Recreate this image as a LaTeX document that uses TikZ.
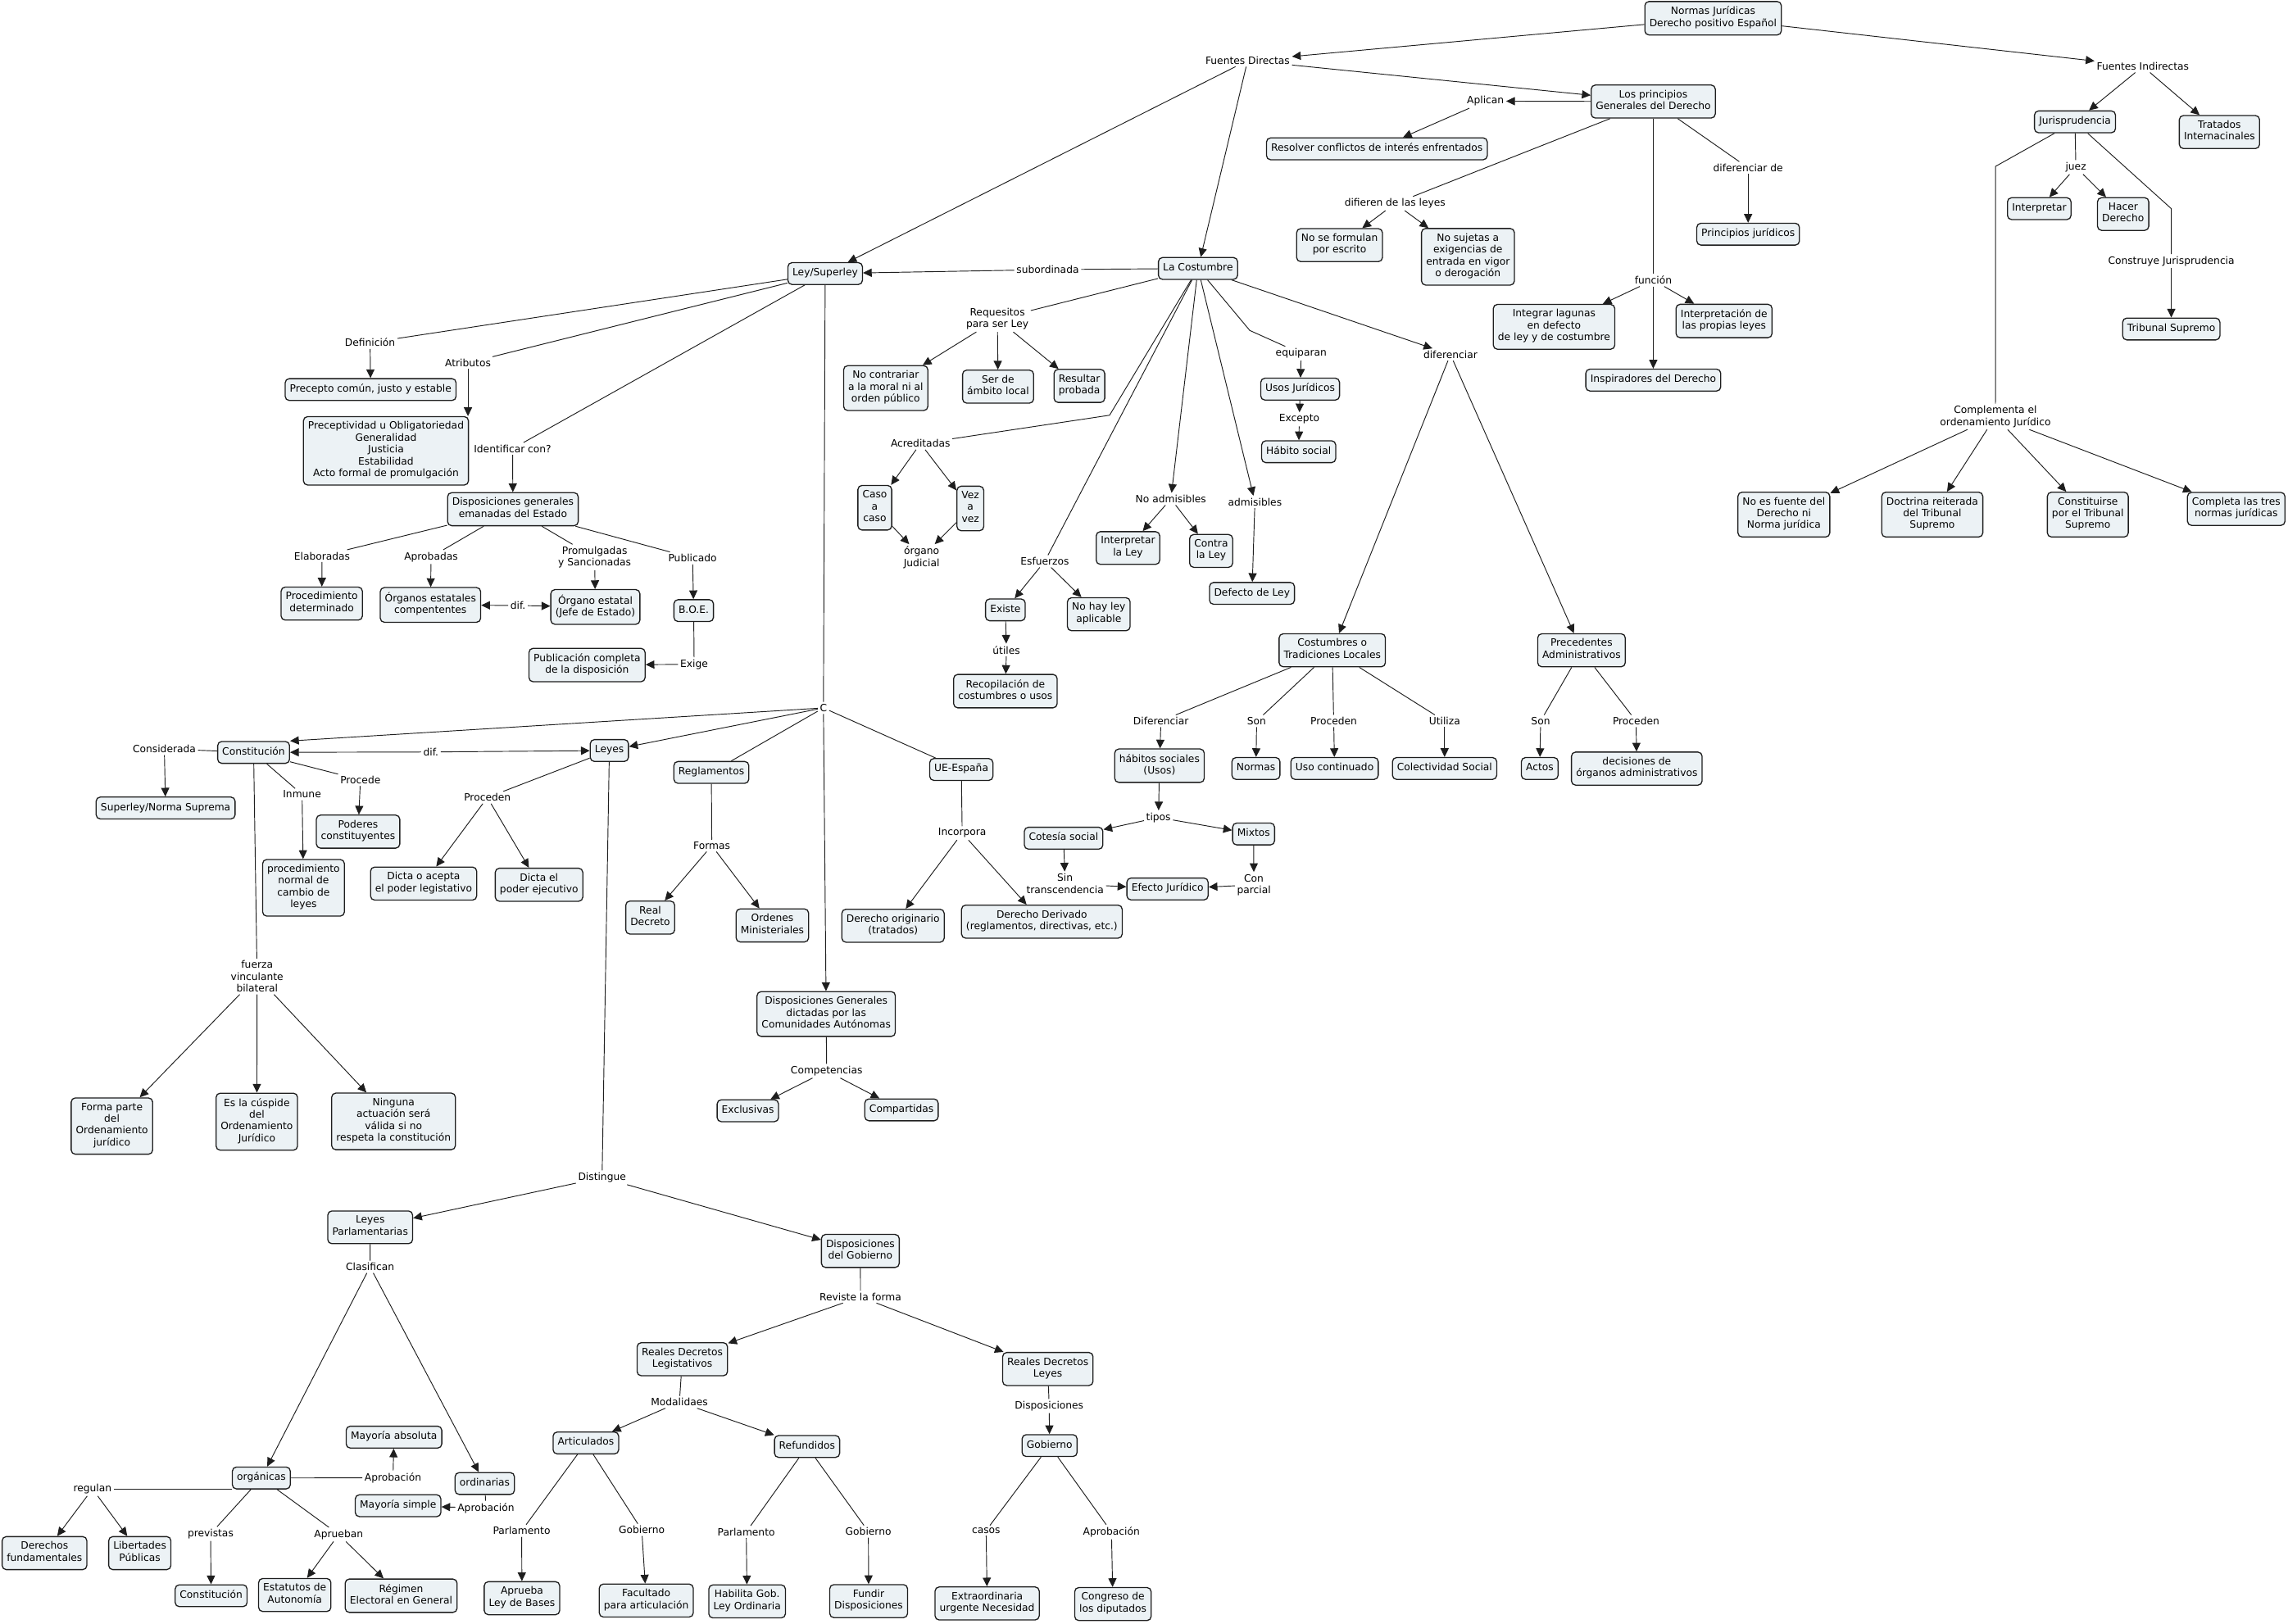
\documentclass[tikz,border=0pt]{standalone}
\usepackage{fontspec}
\setmainfont{DejaVu Sans}
\usetikzlibrary{arrows.meta}
\definecolor{cmfill}{RGB}{236,242,245}
\definecolor{cmline}{RGB}{30,30,30}
\tikzset{
  concept/.style={rectangle, draw=cmline, fill=cmfill, rounded corners=4pt,
    line width=1.05pt, align=center, inner xsep=4.5pt, inner ysep=4.9pt,
    font=\fontsize{9.8}{11.5}\selectfont,
    execute at begin node=\strut, execute at end node=\strut},
  linkph/.style={align=center, inner sep=2pt, font=\fontsize{9.8}{11.5}\selectfont},
  arr/.style={-{Triangle[length=8.5pt,width=8pt]}, line width=0.75pt, color=cmline},
  ln/.style={line width=0.75pt, color=cmline}
}
\begin{document}
\begin{tikzpicture}[x=0.05cm, y=-0.05cm]
  \fill[white] (0,0) rectangle (1568,1113);
  \useasboundingbox (0,0) rectangle (1568,1113);

  % Raiz
  \node[concept] (normas) at (1174,12.5) {Normas Jurídicas\\Derecho positivo Español};
  \node[linkph] (fdir) at (855,41.5) {Fuentes Directas};
  \node[linkph] (find) at (1468.5,45.5) {Fuentes Indirectas};
  \draw[arr] (normas) -- (fdir);
  \draw[arr] (normas) -- (find);

  % Principios generales
  \node[concept] (principios) at (1133,69.6) {Los principios\\Generales del Derecho};
  \node[linkph] (aplican) at (1018,69.3) {Aplican};
  \node[concept] (resolver) at (943.6,102) {Resolver conflictos de interés enfrentados};
  \node[linkph] (difieren) at (956,139.5) {difieren de las leyes};
  \node[concept] (noformulan) at (918,168) {No se formulan\\por escrito};
  \node[concept] (nosujetas) at (1006,176) {No sujetas a\\exigencias de\\entrada en vigor\\o derogación};
  \node[linkph] (difde) at (1198,115) {diferenciar de};
  \node[concept] (pjuridicos) at (1198,160.5) {Principios jurídicos};
  \node[linkph] (funcion) at (1133,192) {función};
  \node[concept] (integrar) at (1065,224) {Integrar lagunas\\en defecto\\de ley y de costumbre};
  \node[concept] (interpretacion) at (1181.5,220) {Interpretación de\\las propias leyes};
  \node[concept] (inspiradores) at (1133,260.5) {Inspiradores del Derecho};
  \draw[arr] (fdir) -- (principios);
  \draw[arr] (principios) -- (aplican);
  \draw[arr] (aplican) -- (resolver);
  \draw[ln] (principios) -- (difieren);
  \draw[arr] (difieren) -- (noformulan);
  \draw[arr] (difieren) -- (nosujetas);
  \draw[ln] (principios) -- (difde);
  \draw[arr] (difde) -- (pjuridicos);
  \draw[ln] (principios) -- (funcion);
  \draw[arr] (funcion) -- (integrar);
  \draw[arr] (funcion) -- (interpretacion);
  \draw[arr] (funcion) -- (inspiradores);

  % Fuentes indirectas
  \node[concept] (juris) at (1422,83.5) {Jurisprudencia};
  \node[concept] (tratados) at (1521,90.5) {Tratados\\Internacinales};
  \node[linkph] (juez) at (1422.6,114.6) {juez};
  \node[concept] (interpretar) at (1397.5,143) {Interpretar};
  \node[concept] (hacer) at (1455,146.7) {Hacer\\Derecho};
  \node[linkph] (construye) at (1488,179) {Construye Jurisprudencia};
  \node[concept] (tsupremo) at (1488,225.5) {Tribunal Supremo};
  \node[linkph] (complementa) at (1367.5,285.5) {Complementa el\\ordenamiento Jurídico};
  \node[concept] (noesfuente) at (1222.5,352.7) {No es fuente del\\Derecho ni\\Norma jurídica};
  \node[concept] (doctrina) at (1324.2,352.7) {Doctrina reiterada\\del Tribunal\\Supremo};
  \node[concept] (constituirse) at (1430.8,352.7) {Constituirse\\por el Tribunal\\Supremo};
  \node[concept] (completa) at (1532.5,348.8) {Completa las tres\\normas jurídicas};
  \coordinate (cons1) at (1488,143);
  \coordinate (comp1) at (1367.6,114);
  \draw[arr] (find) -- (juris);
  \draw[arr] (find) -- (tratados);
  \draw[ln] (juris) -- (juez);
  \draw[arr] (juez) -- (interpretar);
  \draw[arr] (juez) -- (hacer);
  \draw[ln] (juris) -- (cons1) -- (construye);
  \draw[arr] (construye) -- (tsupremo);
  \draw[ln] (juris) -- (comp1) -- (complementa);
  \draw[arr] (complementa) -- (noesfuente);
  \draw[arr] (complementa) -- (doctrina);
  \draw[arr] (complementa) -- (constituirse);
  \draw[arr] (complementa) -- (completa);

  % La Costumbre
  \node[concept] (ley) at (565.5,187.5) {Ley/Superley};
  \node[concept] (costumbre) at (821,184) {La Costumbre};
  \node[linkph] (subordinada) at (718,184.8) {subordinada};
  \node[linkph] (requesitos) at (683.5,218.6) {Requesitos\\para ser Ley};
  \node[concept] (nocontrariar) at (607,266) {No contrariar\\a la moral ni al\\orden público};
  \node[concept] (serambito) at (684,265) {Ser de\\ámbito local};
  \node[concept] (resultar) at (739.7,264.5) {Resultar\\probada};
  \node[linkph] (acreditadas) at (630.8,304) {Acreditadas};
  \node[concept] (caso) at (599.5,348) {Caso\\a\\caso};
  \node[concept] (vez) at (665,348.5) {Vez\\a\\vez};
  \node[linkph] (organo) at (631.6,382) {órgano\\Judicial};
  \node[linkph] (esfuerzos) at (716,384.7) {Esfuerzos};
  \node[concept] (existe) at (689,418) {Existe};
  \node[concept] (nohay) at (753,421) {No hay ley\\aplicable};
  \node[linkph] (utiles) at (689.7,445.5) {útiles};
  \node[concept] (recopilacion) at (689,473.7) {Recopilación de\\costumbres o usos};
  \node[linkph] (noadm) at (802.4,342) {No admisibles};
  \node[concept] (interpley) at (773,375.6) {Interpretar\\la Ley};
  \node[concept] (contraley) at (830,377.6) {Contra\\la Ley};
  \node[linkph] (admisibles) at (860,344) {admisibles};
  \node[concept] (defecto) at (858,406.7) {Defecto de Ley};
  \node[linkph] (equiparan) at (891.7,242.3) {equiparan};
  \node[concept] (usos) at (891,266.7) {Usos Jurídicos};
  \node[linkph] (excepto) at (890.4,287.4) {Excepto};
  \node[concept] (habito) at (890,309.6) {Hábito social};
  \node[linkph] (diferenciar) at (994,243) {diferenciar};
  \coordinate (acr1) at (760.4,284.6);
  \coordinate (equ1) at (856.5,226.5);
  \draw[arr] (fdir) -- (ley);
  \draw[arr] (fdir) -- (costumbre);
  \draw[ln] (costumbre) -- (subordinada);
  \draw[arr] (subordinada) -- (ley);
  \draw[ln] (costumbre) -- (requesitos);
  \draw[arr] (requesitos) -- (nocontrariar);
  \draw[arr] (requesitos) -- (serambito);
  \draw[arr] (requesitos) -- (resultar);
  \draw[ln] (costumbre) -- (acr1) -- (acreditadas);
  \draw[arr] (acreditadas) -- (caso);
  \draw[arr] (acreditadas) -- (vez);
  \draw[arr] (caso) -- (organo);
  \draw[arr] (vez) -- (organo);
  \draw[ln] (costumbre) -- (esfuerzos);
  \draw[arr] (esfuerzos) -- (existe);
  \draw[arr] (esfuerzos) -- (nohay);
  \draw[arr] (existe) -- (utiles);
  \draw[arr] (utiles) -- (recopilacion);
  \draw[arr] (costumbre) -- (noadm);
  \draw[arr] (noadm) -- (interpley);
  \draw[arr] (noadm) -- (contraley);
  \draw[arr] (costumbre) -- (admisibles);
  \draw[arr] (admisibles) -- (defecto);
  \draw[ln] (costumbre) -- (equ1) -- (equiparan);
  \draw[arr] (equiparan) -- (usos);
  \draw[arr] (usos) -- (excepto);
  \draw[arr] (excepto) -- (habito);
  \draw[arr] (costumbre) -- (diferenciar);

  % Costumbres locales y precedentes
  \node[concept] (tradiciones) at (913,445.7) {Costumbres o\\Tradiciones Locales};
  \node[concept] (precedentes) at (1083.8,445.7) {Precedentes\\Administrativos};
  \node[linkph] (difer2) at (795.6,494.2) {Diferenciar};
  \node[linkph] (son1) at (861.2,494.2) {Son};
  \node[linkph] (proceden1) at (914,494.2) {Proceden};
  \node[linkph] (utiliza) at (990,494.2) {Utiliza};
  \node[linkph] (son2) at (1055.8,494.2) {Son};
  \node[linkph] (proceden2) at (1121.2,494.2) {Proceden};
  \node[concept] (habitos) at (794.6,524.8) {hábitos sociales\\(Usos)};
  \node[concept] (normasb) at (860.7,526.7) {Normas};
  \node[concept] (usocont) at (914.6,526.7) {Uso continuado};
  \node[concept] (colectividad) at (990,526.7) {Colectividad Social};
  \node[concept] (actos) at (1055.2,526.7) {Actos};
  \node[concept] (decisiones) at (1121.7,526.8) {decisiones de\\órganos administrativos};
  \node[linkph] (tipos) at (793.9,560.3) {tipos};
  \node[concept] (cortesia) at (728.9,574.5) {Cotesía social};
  \node[concept] (mixtos) at (859.1,571.6) {Mixtos};
  \node[linkph] (sintrans) at (729.9,605.6) {Sin\\transcendencia};
  \node[concept] (efecto) at (800.1,609.3) {Efecto Jurídico};
  \node[linkph] (conparcial) at (859.3,606.5) {Con\\parcial};
  \draw[arr] (diferenciar) -- (tradiciones);
  \draw[arr] (diferenciar) -- (precedentes);
  \draw[ln] (tradiciones) -- (difer2);
  \draw[ln] (tradiciones) -- (son1);
  \draw[ln] (tradiciones) -- (proceden1);
  \draw[ln] (tradiciones) -- (utiliza);
  \draw[arr] (difer2) -- (habitos);
  \draw[arr] (son1) -- (normasb);
  \draw[arr] (proceden1) -- (usocont);
  \draw[arr] (utiliza) -- (colectividad);
  \draw[ln] (precedentes) -- (son2);
  \draw[ln] (precedentes) -- (proceden2);
  \draw[arr] (son2) -- (actos);
  \draw[arr] (proceden2) -- (decisiones);
  \draw[arr] (habitos) -- (tipos);
  \draw[arr] (tipos) -- (cortesia);
  \draw[arr] (tipos) -- (mixtos);
  \draw[arr] (cortesia) -- (sintrans);
  \draw[arr] (sintrans) -- (efecto);
  \draw[arr] (mixtos) -- (conparcial);
  \draw[arr] (conparcial) -- (efecto);

  % Ley/Superley
  \node[linkph] (definicion) at (253.6,234.8) {Definición};
  \node[concept] (precepto) at (254,267) {Precepto común, justo y estable};
  \node[linkph] (atributos) at (320.7,248.7) {Atributos};
  \node[concept] (preceptividad) at (264.5,309) {Preceptividad u Obligatoriedad\\Generalidad\\Justicia\\Estabilidad\\Acto formal de promulgación};
  \node[linkph] (identificar) at (351.3,307.5) {Identificar con?};
  \node[concept] (dispgen) at (351.5,349) {Disposiciones generales\\emanadas del Estado};
  \node[linkph] (elaboradas) at (220.7,381) {Elaboradas};
  \node[linkph] (aprobadas) at (295.4,381.7) {Aprobadas};
  \node[linkph] (promulgadas) at (407.5,382) {Promulgadas\\y Sancionadas};
  \node[linkph] (publicado) at (474.6,382.5) {Publicado};
  \node[concept] (procdet) at (220.5,413.7) {Procedimiento\\determinado};
  \node[concept] (organos) at (295,414.6) {Órganos estatales\\compententes};
  \node[linkph] (dif1) at (355,415) {dif.};
  \node[concept] (organo1) at (408,416) {Órgano estatal\\(Jefe de Estado)};
  \node[concept] (boe) at (475.4,418.5) {B.O.E.};
  \node[concept] (publicacion) at (402.3,455.8) {Publicación completa\\de la disposición};
  \node[linkph] (exige) at (475.7,455.3) {Exige};
  \draw[ln] (ley) -- (definicion);
  \draw[arr] (definicion) -- (precepto);
  \draw[ln] (ley) -- (atributos);
  \draw[arr] (atributos.south) -- (atributos.south |- preceptividad.north);
  \draw[ln] (ley) -- (identificar);
  \draw[arr] (identificar) -- (dispgen);
  \draw[ln] (dispgen) -- (elaboradas);
  \draw[ln] (dispgen) -- (aprobadas);
  \draw[ln] (dispgen) -- (promulgadas);
  \draw[ln] (dispgen) -- (publicado);
  \draw[arr] (elaboradas) -- (procdet);
  \draw[arr] (aprobadas) -- (organos);
  \draw[arr] (promulgadas) -- (organo1);
  \draw[arr] (publicado) -- (boe);
  \draw[arr] (dif1) -- (organos);
  \draw[arr] (dif1) -- (organo1);
  \draw[ln] (boe) -- (exige);
  \draw[arr] (exige) -- (publicacion);

  % C
  \node[linkph] (cc) at (564.3,485.2) {C};
  \node[concept] (constitucion) at (173.8,515.7) {Constitución};
  \node[linkph] (considerada) at (112.6,513.3) {Considerada};
  \node[concept] (superley) at (113.5,553.8) {Superley/Norma Suprema};
  \node[linkph] (dif2) at (295.3,515.4) {dif.};
  \node[concept] (leyes) at (417.6,514.4) {Leyes};
  \node[linkph] (procede) at (247,534.5) {Procede};
  \node[linkph] (inmune) at (207,544.5) {Inmune};
  \node[concept] (poderes) at (245.4,570) {Poderes\\constituyentes};
  \node[concept] (procnormal) at (208,608.5) {procedimiento\\normal de\\cambio de\\leyes};
  \node[linkph] (proceden3) at (334,546.6) {Proceden};
  \node[concept] (dictaacepta) at (290.3,605.6) {Dicta o acepta\\el poder legistativo};
  \node[concept] (dictaejec) at (369.4,606.4) {Dicta el\\poder ejecutivo};
  \node[concept] (reglamentos) at (487.5,529.4) {Reglamentos};
  \node[linkph] (formas) at (487.8,579.6) {Formas};
  \node[concept] (realdecreto) at (445.6,628.9) {Real\\Decreto};
  \node[concept] (ordenes) at (529.3,634.3) {Ordenes\\Ministeriales};
  \node[concept] (ue) at (658.8,527.4) {UE-España};
  \node[linkph] (incorpora) at (659.4,571) {Incorpora};
  \node[concept] (originario) at (612,634.5) {Derecho originario\\(tratados)};
  \node[concept] (derivado) at (714,631.7) {Derecho Derivado\\(reglamentos, directivas, etc.)};
  \node[concept] (ccaa) at (566.2,695) {Disposiciones Generales\\dictadas por las\\Comunidades Autónomas};
  \node[linkph] (competencias) at (566.5,734) {Competencias};
  \node[concept] (exclusivas) at (512.5,761.3) {Exclusivas};
  \node[concept] (compartidas) at (617.8,760.7) {Compartidas};
  \node[linkph] (fuerza) at (176.2,669.3) {fuerza\\vinculante\\bilateral};
  \node[concept] (formaparte) at (76.7,771.8) {Forma parte\\del\\Ordenamiento\\jurídico};
  \node[concept] (cuspide) at (176,768.8) {Es la cúspide\\del\\Ordenamiento\\Jurídico};
  \node[concept] (ninguna) at (269.7,768.6) {Ninguna\\actuación será\\válida si no\\respeta la constitución};
  \draw[ln] (ley) -- (cc);
  \draw[arr] (cc) -- (constitucion.north east);
  \draw[arr] (cc) -- (leyes);
  \draw[ln] (cc) -- (reglamentos);
  \draw[ln] (cc) -- (ue);
  \draw[arr] (cc) -- (ccaa);
  \draw[ln] (constitucion) -- (considerada);
  \draw[arr] (considerada) -- (superley);
  \draw[arr] (dif2) -- (constitucion);
  \draw[arr] (dif2) -- (leyes);
  \draw[ln] (constitucion) -- (procede);
  \draw[arr] (procede) -- (poderes);
  \draw[ln] (constitucion) -- (inmune);
  \draw[arr] (inmune) -- (procnormal);
  \draw[ln] (constitucion) -- (fuerza);
  \draw[arr] (fuerza) -- (formaparte);
  \draw[arr] (fuerza) -- (cuspide);
  \draw[arr] (fuerza) -- (ninguna);
  \draw[ln] (leyes) -- (proceden3);
  \draw[arr] (proceden3) -- (dictaacepta);
  \draw[arr] (proceden3) -- (dictaejec);
  \draw[ln] (reglamentos) -- (formas);
  \draw[arr] (formas) -- (realdecreto);
  \draw[arr] (formas) -- (ordenes);
  \draw[ln] (ue) -- (incorpora);
  \draw[arr] (incorpora) -- (originario);
  \draw[arr] (incorpora) -- (derivado);
  \draw[ln] (ccaa) -- (competencias);
  \draw[arr] (competencias) -- (exclusivas);
  \draw[arr] (competencias) -- (compartidas);

  % Distingue
  \node[linkph] (distingue) at (412.6,807.1) {Distingue};
  \node[concept] (leyesparl) at (253.7,841.2) {Leyes\\Parlamentarias};
  \node[concept] (dispgob) at (589.6,857.4) {Disposiciones\\del Gobierno};
  \node[linkph] (clasifican) at (253.6,868.3) {Clasifican};
  \node[linkph] (reviste) at (589.7,888.9) {Reviste la forma};
  \node[concept] (rdl) at (467.6,931.6) {Reales Decretos\\Legistativos};
  \node[concept] (rdleyes) at (718.1,938.3) {Reales Decretos\\Leyes};
  \node[linkph] (modalidaes) at (465.6,961) {Modalidaes};
  \node[linkph] (disposiciones) at (719,963.7) {Disposiciones};
  \node[concept] (articulados) at (401.5,989) {Articulados};
  \node[concept] (refundidos) at (553.1,991.4) {Refundidos};
  \node[concept] (gobierno) at (719.3,990.8) {Gobierno};
  \node[concept] (mayabs) at (270,985) {Mayoría absoluta};
  \node[concept] (organicas) at (179.1,1013) {orgánicas};
  \node[linkph] (aprobacion1) at (269.3,1012.9) {Aprobación};
  \node[concept] (ordinarias) at (332.2,1016.8) {ordinarias};
  \node[linkph] (regulan) at (63.4,1020.5) {regulan};
  \node[concept] (maysimple) at (272.8,1032) {Mayoría simple};
  \node[linkph] (aprobacion2) at (333,1033.6) {Aprobación};
  \node[linkph] (previstas) at (144.3,1051.3) {previstas};
  \node[linkph] (aprueban) at (232.1,1051.7) {Aprueban};
  \node[linkph] (parl1) at (357.5,1049.2) {Parlamento};
  \node[linkph] (gob1) at (439.8,1048.6) {Gobierno};
  \node[linkph] (parl2) at (511.4,1050) {Parlamento};
  \node[linkph] (gob2) at (595.1,1049.7) {Gobierno};
  \node[linkph] (casos) at (675.8,1049) {casos};
  \node[linkph] (aprobacion3) at (761.7,1050) {Aprobación};
  \node[concept] (derechos) at (30.5,1064.5) {Derechos\\fundamentales};
  \node[concept] (libertades) at (95.8,1064.5) {Libertades\\Públicas};
  \node[concept] (constitucion2) at (144.7,1093.7) {Constitución};
  \node[concept] (estatutos) at (202,1093.2) {Estatutos de\\Autonomía};
  \node[concept] (regimen) at (274.9,1093.7) {Régimen\\Electoral en General};
  \node[concept] (aprueba) at (357.7,1095.4) {Aprueba\\Ley de Bases};
  \node[concept] (facultado) at (442.9,1097) {Facultado\\para articulación};
  \node[concept] (habilita) at (512,1097.6) {Habilita Gob.\\Ley Ordinaria};
  \node[concept] (fundir) at (595.3,1097.4) {Fundir\\Disposiciones};
  \node[concept] (extraordinaria) at (676.5,1099) {Extraordinaria\\urgente Necesidad};
  \node[concept] (congreso) at (762.7,1099.4) {Congreso de\\los diputados};
  \draw[ln] (leyes) -- (distingue);
  \draw[arr] (distingue) -- (leyesparl);
  \draw[arr] (distingue) -- (dispgob);
  \draw[ln] (leyesparl) -- (clasifican);
  \draw[arr] (clasifican) -- (organicas);
  \draw[arr] (clasifican) -- (ordinarias);
  \draw[ln] (organicas) -- (aprobacion1);
  \draw[arr] (aprobacion1) -- (mayabs);
  \draw[ln] (organicas.south west) -- (regulan.east |- organicas.south west);
  \draw[arr] (regulan) -- (derechos);
  \draw[arr] (regulan) -- (libertades);
  \draw[ln] (organicas) -- (previstas);
  \draw[arr] (previstas) -- (constitucion2);
  \draw[ln] (organicas) -- (aprueban);
  \draw[arr] (aprueban) -- (estatutos);
  \draw[arr] (aprueban) -- (regimen);
  \draw[ln] (ordinarias) -- (aprobacion2);
  \draw[arr] (aprobacion2) -- (maysimple);
  \draw[ln] (dispgob) -- (reviste);
  \draw[arr] (reviste) -- (rdl);
  \draw[arr] (reviste) -- (rdleyes);
  \draw[ln] (rdl) -- (modalidaes);
  \draw[arr] (modalidaes) -- (articulados);
  \draw[arr] (modalidaes) -- (refundidos);
  \draw[ln] (articulados) -- (parl1);
  \draw[ln] (articulados) -- (gob1);
  \draw[arr] (parl1) -- (aprueba);
  \draw[arr] (gob1) -- (facultado);
  \draw[ln] (refundidos) -- (parl2);
  \draw[ln] (refundidos) -- (gob2);
  \draw[arr] (parl2) -- (habilita);
  \draw[arr] (gob2) -- (fundir);
  \draw[ln] (rdleyes) -- (disposiciones);
  \draw[arr] (disposiciones) -- (gobierno);
  \draw[ln] (gobierno) -- (casos);
  \draw[ln] (gobierno) -- (aprobacion3);
  \draw[arr] (casos) -- (extraordinaria);
  \draw[arr] (aprobacion3) -- (congreso);
\end{tikzpicture}
\end{document}
